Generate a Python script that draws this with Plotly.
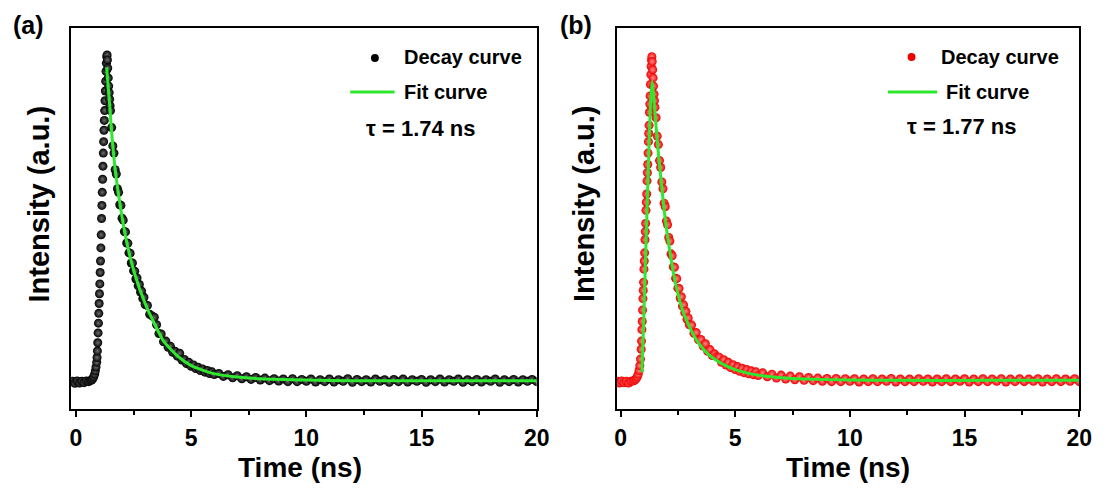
import plotly.graph_objects as go

W, H = 1112, 488

# ---- measured decay data (time in ns, normalised intensity) ----
time_ns = [
    -0.15, -0.05, 0.05, 0.15, 0.25, 0.35, 0.45, 0.55, 0.62, 0.68, 0.73, 0.77, 0.81, 0.84, 0.87,
    0.900, 0.915, 0.930, 0.945, 0.960, 0.975, 0.990, 1.005, 1.020, 1.035, 1.050, 1.065, 1.080,
    1.095, 1.110, 1.125, 1.140, 1.155, 1.170, 1.185, 1.200, 1.215, 1.230, 1.245, 1.260, 1.275,
    1.290, 1.305, 1.320,
    1.335, 1.350, 1.365, 1.380, 1.40, 1.42, 1.44, 1.46, 1.48, 1.50,
    1.55, 1.60, 1.65, 1.70, 1.75, 1.80, 1.85, 1.90, 1.95, 2.00, 2.05, 2.10, 2.15, 2.20, 2.25,
    2.30, 2.35, 2.40, 2.45, 2.50, 2.55, 2.60, 2.65, 2.70, 2.75, 2.80, 2.85, 2.90, 2.95, 3.00,
    3.1, 3.2, 3.3, 3.4, 3.5, 3.6, 3.7, 3.8, 3.9, 4.0, 4.1, 4.2, 4.3, 4.4, 4.5, 4.6, 4.7, 4.8,
    4.9, 5.0, 5.1, 5.2, 5.3, 5.4, 5.5, 5.6, 5.7, 5.8, 5.9, 6.0,
    6.2, 6.4, 6.6, 6.8, 7.0, 7.2, 7.4, 7.6, 7.8, 8.0, 8.2, 8.4, 8.6, 8.8, 9.0, 9.2, 9.4, 9.6,
    9.8, 10.0, 10.2, 10.4, 10.6, 10.8, 11.0, 11.2, 11.4, 11.6, 11.8, 12.0, 12.2, 12.4, 12.6,
    12.8, 13.0, 13.2, 13.4, 13.6, 13.8, 14.0, 14.2, 14.4, 14.6, 14.8, 15.0, 15.2, 15.4, 15.6,
    15.8, 16.0, 16.2, 16.4, 16.6, 16.8, 17.0, 17.2, 17.4, 17.6, 17.8, 18.0, 18.2, 18.4, 18.6,
    18.8, 19.0, 19.2, 19.4, 19.6, 19.8, 20.0,
]

decay_a = [
    0.002, -0.004, 0.003, -0.003, 0.002, -0.002, 0.003, 0.001, 0.004, 0.006, 0.010, 0.016, 0.024, 0.034, 0.046,
    0.060, 0.075, 0.095, 0.120, 0.150, 0.180, 0.210, 0.240, 0.270, 0.300, 0.335, 0.370, 0.410,
    0.450, 0.500, 0.540, 0.580, 0.620, 0.660, 0.700, 0.735, 0.770, 0.800, 0.830, 0.860, 0.890,
    0.920, 0.950, 0.975,
    0.995, 1.000, 0.985, 0.960, 0.930, 0.905, 0.885, 0.865, 0.845, 0.830,
    0.778, 0.722, 0.700, 0.649, 0.636, 0.591, 0.580, 0.542, 0.540, 0.501, 0.495, 0.460, 0.459, 0.425,
    0.424, 0.395, 0.394, 0.364, 0.364, 0.340, 0.339, 0.315, 0.318, 0.294, 0.298, 0.275, 0.278,
    0.255, 0.259, 0.237,
    0.234, 0.207, 0.202, 0.198, 0.175, 0.148, 0.147, 0.123, 0.125, 0.106, 0.109, 0.091, 0.094,
    0.079, 0.088, 0.067, 0.069, 0.056, 0.060, 0.048, 0.052, 0.041, 0.045, 0.035, 0.040, 0.030,
    0.035, 0.026, 0.031, 0.023,
    0.026, 0.017, 0.022, 0.013, 0.019, 0.010, 0.016, 0.008, 0.014, 0.006, 0.012, 0.004, 0.010,
    0.003, 0.009, 0.001, 0.010, 0.001, 0.008, 0.002, 0.009, 0.000, 0.007, 0.001, 0.009, 0.000,
    0.007, 0.002, 0.010, -0.001, 0.008, 0.001, 0.007, 0.000, 0.009, 0.002, 0.007, -0.001, 0.008,
    0.001, 0.009, 0.000, 0.007, 0.002, 0.008, -0.001, 0.007, 0.001, 0.009, 0.000, 0.007, 0.002,
    0.009, -0.001, 0.007, 0.001, 0.008, 0.000, 0.007, 0.002, 0.009, -0.001, 0.007, 0.001, 0.008,
    0.000, 0.007, 0.002, 0.008, 0.001,
]

decay_b = [
    0.002, -0.003, 0.003, -0.002, 0.002, -0.003, 0.002, 0.003, 0.006, 0.010, 0.016, 0.024, 0.035, 0.050, 0.070,
    0.100, 0.125, 0.160, 0.185, 0.220, 0.255, 0.280, 0.305, 0.345, 0.370, 0.395, 0.435, 0.460,
    0.485, 0.525, 0.550, 0.575, 0.615, 0.640, 0.665, 0.700, 0.735, 0.760, 0.785, 0.825, 0.850,
    0.875, 0.910, 0.940,
    0.965, 0.985, 0.995, 0.980, 0.955, 0.930, 0.905, 0.880, 0.860, 0.840,
    0.808, 0.752, 0.726, 0.677, 0.656, 0.612, 0.591, 0.547, 0.536, 0.492, 0.481, 0.442, 0.431,
    0.392, 0.386, 0.352, 0.351, 0.317, 0.316, 0.287, 0.286, 0.257, 0.261, 0.232, 0.236, 0.212,
    0.216, 0.192, 0.196, 0.175,
    0.174, 0.149, 0.151, 0.129, 0.130, 0.110, 0.117, 0.094, 0.099, 0.081, 0.086, 0.077, 0.076,
    0.060, 0.068, 0.052, 0.060, 0.044, 0.053, 0.038, 0.047, 0.033, 0.042, 0.028, 0.038, 0.025,
    0.034, 0.022, 0.031, 0.020,
    0.028, 0.016, 0.024, 0.012, 0.021, 0.009, 0.018, 0.007, 0.016, 0.005, 0.014, 0.004, 0.012,
    0.002, 0.011, 0.001, 0.011, 0.001, 0.010, 0.002, 0.010, 0.000, 0.009, 0.001, 0.010, 0.001,
    0.009, 0.002, 0.011, 0.000, 0.009, 0.001, 0.009, 0.001, 0.010, 0.002, 0.009, 0.000, 0.009,
    0.001, 0.010, 0.001, 0.009, 0.002, 0.010, 0.000, 0.009, 0.001, 0.010, 0.001, 0.009, 0.002,
    0.010, 0.000, 0.009, 0.001, 0.010, 0.001, 0.009, 0.002, 0.010, 0.000, 0.009, 0.001, 0.010,
    0.001, 0.009, 0.002, 0.010, 0.001,
]

# ---- fitted curves ----
fit_time_a = [1.33, 1.40, 1.47, 1.57, 1.71, 1.93, 2.18, 2.53, 3.00, 3.43, 3.80, 4.40, 5.00,
              5.90, 7.00, 8.00, 10.0, 12.0, 16.0, 20.0]
fit_a = [0.962, 0.900, 0.840, 0.745, 0.645, 0.535, 0.435, 0.335, 0.240, 0.175, 0.125, 0.080,
         0.050, 0.027, 0.015, 0.010, 0.006, 0.004, 0.004, 0.004]

fit_time_b = [0.93, 1.00, 1.10, 1.20, 1.30, 1.38, 1.45, 1.55, 1.65, 1.75, 1.88, 2.00, 2.15,
              2.30, 2.50, 2.75, 3.00, 3.25, 3.50, 3.75, 4.00, 4.50, 5.00, 5.50, 6.00, 7.00,
              8.00, 10.0, 12.0, 16.0, 20.0]
fit_b = [0.030, 0.170, 0.400, 0.630, 0.840, 0.920, 0.870, 0.780, 0.700, 0.630, 0.540, 0.470,
         0.400, 0.335, 0.270, 0.210, 0.170, 0.135, 0.110, 0.090, 0.075, 0.053, 0.038, 0.028,
         0.021, 0.013, 0.009, 0.006, 0.005, 0.005, 0.005]

lifetimes = ["1.74", "1.77"]
panel_tags = ["(a)", "(b)"]
x_ticks = [0, 5, 10, 15, 20]

FONT = "Liberation Sans, Arial, Helvetica, sans-serif"
GREEN = "#2ee82e"


def px(x):
    return x / W


def py(y):
    return 1 - y / H


fig = go.Figure()

# panel (a): black decay points + fit
fig.add_trace(go.Scatter(
    x=time_ns, y=decay_a, mode="markers", xaxis="x", yaxis="y",
    marker=dict(size=9, color="#000000", line=dict(width=0),
                gradient=dict(type="radial", color="#6e6e6e")),
    showlegend=False, hoverinfo="skip"))
fig.add_trace(go.Scatter(
    x=fit_time_a, y=fit_a, mode="lines", xaxis="x", yaxis="y",
    line=dict(color=GREEN, width=3, shape="spline", smoothing=0.6),
    showlegend=False, hoverinfo="skip"))

# panel (b): red decay points + fit
fig.add_trace(go.Scatter(
    x=time_ns, y=decay_b, mode="markers", xaxis="x2", yaxis="y2",
    marker=dict(size=9, color="#f00000", line=dict(width=0),
                gradient=dict(type="radial", color="#ff8a8a")),
    showlegend=False, hoverinfo="skip"))
fig.add_trace(go.Scatter(
    x=fit_time_b, y=fit_b, mode="lines", xaxis="x2", yaxis="y2",
    line=dict(color=GREEN, width=3, shape="spline", smoothing=0.6),
    showlegend=False, hoverinfo="skip"))

y_dom = [py(409), py(28)]
y_rng = [-0.0826, 1.0826]

xaxis_common = dict(
    showline=True, mirror=True, linecolor="black", linewidth=2,
    ticks="outside", ticklen=6, tickwidth=2, tickcolor="black",
    tickvals=x_ticks, ticktext=[str(v) for v in x_ticks],
    minor=dict(ticks="outside", ticklen=4, tickwidth=2, tickcolor="black", dtick=2.5),
    tickfont=dict(family=FONT, size=23, color="black", weight="bold"),
    ticklabelstandoff=1,
    showgrid=False, zeroline=False, fixedrange=True,
)
yaxis_common = dict(
    showline=True, mirror=True, linecolor="black", linewidth=2,
    showticklabels=False, ticks="", showgrid=False, zeroline=False,
    range=y_rng, domain=y_dom, fixedrange=True,
)

fig.update_layout(
    width=W, height=H, autosize=False,
    margin=dict(l=0, r=0, t=0, b=0),
    paper_bgcolor="white", plot_bgcolor="white",
    xaxis=dict(xaxis_common, domain=[px(70), px(542)], range=[-0.214, 20], anchor="y"),
    yaxis=dict(yaxis_common, anchor="x"),
    xaxis2=dict(xaxis_common, domain=[px(623), px(1092)], range=[-0.172, 20], anchor="y2"),
    yaxis2=dict(yaxis_common, anchor="x2"),
)

annotations = []
shapes = []


def text(x, y, s, size, xanchor="left", angle=0):
    annotations.append(dict(
        x=px(x), y=py(y), xref="paper", yref="paper", text=s, showarrow=False,
        xanchor=xanchor, yanchor="middle", textangle=angle,
        font=dict(family=FONT, size=size, color="black", weight="bold")))


# per-panel labelling: tags, axis titles, key and lifetime
panel_layout = [
    dict(tag=(27, 25), ytitle=37, xtitle=302, dot=(378, 58), dot_color="#000000",
         decay_txt=405, line=(353, 398), fit_txt=405, tau=(367, 128)),
    dict(tag=(582, 25), ytitle=590, xtitle=858, dot=(922, 57), dot_color="#ee0000",
         decay_txt=950, line=(898, 948), fit_txt=955, tau=(915, 126)),
]

for i, p in enumerate(panel_layout):
    text(p["tag"][0], p["tag"][1], panel_tags[i], 25, xanchor="center")
    text(p["ytitle"], 204, "Intensity (a.u.)", 29, xanchor="center", angle=-90)
    text(p["xtitle"], 467, "Time (ns)", 28, xanchor="center")
    text(p["decay_txt"], 57, "Decay curve", 20)
    text(p["fit_txt"], 92, "Fit curve", 20)
    text(p["tau"][0], p["tau"][1], "\u03c4 = " + lifetimes[i] + " ns", 22)
    cx, cy = p["dot"]
    shapes.append(dict(type="circle", xref="paper", yref="paper",
                       x0=px(cx - 4), x1=px(cx + 4), y0=py(cy + 4), y1=py(cy - 4),
                       fillcolor=p["dot_color"], line=dict(width=0)))
    shapes.append(dict(type="line", xref="paper", yref="paper",
                       x0=px(p["line"][0]), x1=px(p["line"][1]), y0=py(92), y1=py(92),
                       line=dict(color=GREEN, width=3)))

fig.update_layout(annotations=annotations, shapes=shapes)

fig.write_html("out.html")
